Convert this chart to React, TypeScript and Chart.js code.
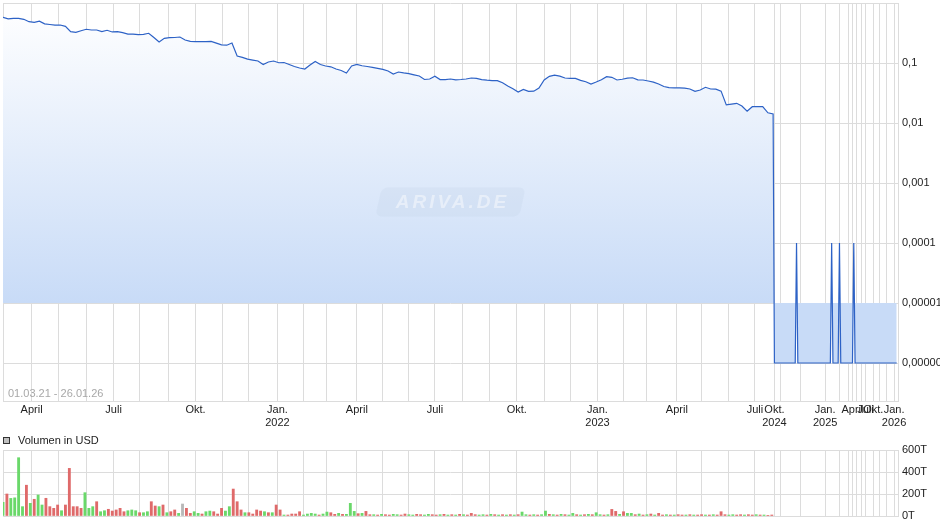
import React, { useEffect, useRef } from 'react';
import { Chart, registerables } from 'chart.js';

Chart.register(...registerables);

// ---------- DATA ----------
// month keys present on the (record-indexed) x axis and number of trading records in each
const monthKeys = [
  '2021-03', '2021-04', '2021-05', '2021-06', '2021-07', '2021-08', '2021-09', '2021-10', '2021-11', '2021-12',
  '2022-01', '2022-02', '2022-03', '2022-04', '2022-05', '2022-06', '2022-07', '2022-08', '2022-09', '2022-10', '2022-11', '2022-12',
  '2023-01', '2023-02', '2023-03', '2023-04', '2023-05', '2023-06', '2023-07',
  '2024-10', '2024-11', '2024-12',
  '2025-01', '2025-02', '2025-03', '2025-04', '2025-05', '2025-06', '2025-07', '2025-10', '2025-11', '2025-12',
  '2026-01',
];
const recordsPerMonth = [
  22, 21, 21, 21, 20, 22, 21, 21, 20, 22,
  20, 18, 23, 20, 20, 20, 21, 21, 21, 21, 20, 21,
  20, 18, 23, 19, 21, 20, 15,
  5, 15, 19,
  11, 7, 3, 3, 4, 3, 6, 5, 5, 6,
  3,
];

// price (USD), every 4th trading record from 01.03.21 until July 2023
const PRICE_STEP = 4;
const priceHistory = [
  0.577, 0.545, 0.556, 0.556, 0.535, 0.488, 0.477, 0.497, 0.450, 0.438,
  0.427, 0.430, 0.409, 0.333, 0.325, 0.345, 0.365, 0.355, 0.355, 0.334,
  0.351, 0.329, 0.333, 0.321, 0.304, 0.304, 0.297, 0.301, 0.313, 0.266,
  0.224, 0.258, 0.264, 0.266, 0.271, 0.242, 0.230, 0.227, 0.227, 0.227,
  0.229, 0.214, 0.200, 0.198, 0.215, 0.131, 0.124, 0.116, 0.112, 0.108,
  0.0945, 0.104, 0.108, 0.101, 0.102, 0.0945, 0.0875, 0.0825, 0.0794, 0.0926,
  0.106, 0.0945, 0.0891, 0.0865, 0.0794, 0.0750, 0.0681, 0.0891, 0.0945, 0.0900,
  0.0875, 0.0845, 0.0812, 0.0781, 0.0736, 0.0656, 0.0708, 0.0685, 0.0667, 0.0636,
  0.0607, 0.0531, 0.0541, 0.0600, 0.0530, 0.0528, 0.0541, 0.0525, 0.0531, 0.0541,
  0.0562, 0.0553, 0.0530, 0.0517, 0.0509, 0.0509, 0.0468, 0.0414, 0.0372, 0.0329,
  0.0362, 0.0337, 0.0339, 0.0383, 0.0521, 0.0600, 0.0627, 0.0603, 0.0562, 0.0553,
  0.0553, 0.0514, 0.0487, 0.0447, 0.0482, 0.0525, 0.0591, 0.0577, 0.0521, 0.0536,
  0.0558, 0.0568, 0.0525, 0.0521, 0.0501, 0.0479, 0.0447, 0.0406, 0.0389, 0.0386,
  0.0386, 0.0380, 0.0369, 0.0337, 0.0355, 0.0394, 0.0369, 0.0367, 0.0340, 0.0200,
  0.0207, 0.0213, 0.0192, 0.0158, 0.0187, 0.0187, 0.0188, 0.0148, 0.0142,
];

// price (USD), every trading record from October 2024 until 26.01.26
const priceLater = [
  1e-6, 1e-6, 1e-6, 1e-6, 1e-6, 1e-6, 1e-6, 1e-6, 1e-6, 1e-6,
  1e-6, 1e-6, 1e-6, 1e-6, 1e-6, 1e-6, 1e-6, 1e-4, 1e-6, 1e-6,
  1e-6, 1e-6, 1e-6, 1e-6, 1e-6, 1e-6, 1e-6, 1e-6, 1e-6, 1e-6,
  1e-6, 1e-6, 1e-6, 1e-6, 1e-6, 1e-6, 1e-6, 1e-6, 1e-6, 1e-6,
  1e-6, 1e-6, 1e-6, 1e-6, 1e-4, 1e-6, 1e-6, 1e-6, 1e-6, 1e-6,
  1e-4, 1e-6, 1e-6, 1e-6, 1e-6, 1e-6, 1e-6, 1e-6, 1e-6, 1e-6,
  1e-6, 1e-4, 1e-6, 1e-6, 1e-6, 1e-6, 1e-6, 1e-6, 1e-6, 1e-6,
  1e-6, 1e-6, 1e-6, 1e-6, 1e-6, 1e-6, 1e-6, 1e-6, 1e-6, 1e-6,
  1e-6, 1e-6, 1e-6, 1e-6, 1e-6, 1e-6, 1e-6, 1e-6, 1e-6, 1e-6,
  1e-6, 1e-6, 1e-6, 1e-6, 1e-6,
];

// volume in thousand USD, every 3rd trading record (2021-03 .. 2023-07)
const VOLUME_STEP = 3;
const volumeT = [
  125, 200, 160, 165, 530, 85, 280, 115, 152, 191,
  100, 161, 85, 70, 100, 48, 100, 433, 85, 85,
  70, 212, 70, 85, 130, 39, 48, 61, 45, 55,
  70, 39, 48, 55, 48, 30, 30, 39, 130, 91,
  85, 100, 30, 39, 55, 24, 109, 70, 24, 39,
  24, 18, 39, 45, 39, 18, 70, 45, 85, 245,
  130, 55, 30, 30, 18, 55, 45, 39, 30, 30,
  100, 55, 9, 9, 18, 18, 39, 9, 18, 24,
  18, 9, 18, 36, 30, 15, 24, 15, 15, 115,
  42, 21, 24, 42, 12, 12, 9, 15, 12, 9,
  15, 12, 9, 18, 12, 9, 15, 12, 9, 15,
  12, 9, 12, 15, 9, 12, 9, 15, 12, 9,
  24, 12, 9, 12, 9, 15, 12, 9, 12, 9,
  12, 9, 12, 36, 12, 9, 12, 9, 12, 45,
  15, 12, 9, 15, 12, 9, 24, 12, 9, 12,
  15, 12, 30, 12, 9, 12, 60, 42, 15, 39,
  24, 24, 12, 18, 9, 12, 18, 9, 24, 9,
  12, 9, 9, 12, 9, 9, 12, 9, 9, 12,
  9, 9, 12, 9, 39, 12, 9, 12, 9, 12,
  9, 12, 9, 12, 9, 9, 6, 9,
];
// u = up day (green), d = down day (red), n = unchanged (grey)
const volumeTrend =
  'uduuuududu' + 'uddddudddd' + 'duuuduuddd' + 'dduuuduudd' + 'ududdunddu' +
  'uduuddduud' + 'dduddddudu' + 'ddudddduuu' + 'uduudduduu' + 'ududdududd' +
  'uudduudduu' + 'ddudududud' + 'dduudududu' + 'duduududuu' + 'dududuudud' +
  'uduududdud' + 'uududududd' + 'ududdududd' + 'ududdduudd' + 'uddududd';

const priceTicks = [0.000001, 0.00001, 0.0001, 0.001, 0.01, 0.1];
const volumeTicks = [0, 200, 400, 600];
const rangeLabel = '01.03.21 - 26.01.26';
const volumeLegend = 'Volumen in USD';
const quarterNames: Record<number, string> = { 1: 'Jan.', 4: 'April', 7: 'Juli', 10: 'Okt.' };

// ---------- derived ----------
const monthStarts: number[] = [];
let acc = 0;
for (const n of recordsPerMonth) {
  monthStarts.push(acc);
  acc += n;
}
const totalRecords = acc;
const laterStart = monthStarts[monthKeys.indexOf('2024-10')];

const monthLabels = (() => {
  let prevYear: number | null = null;
  return monthKeys.map((k) => {
    const [y, m] = k.split('-').map(Number);
    const name = quarterNames[m];
    if (!name) return '';
    const showYear = m === 1 || (prevYear !== null && prevYear !== y);
    prevYear = y;
    return showYear ? [name, String(y)] : name;
  });
})();

const pricePoints = [
  ...priceHistory.map((v, i) => ({ x: i * PRICE_STEP, y: v })),
  ...priceLater.map((v, j) => ({ x: laterStart + j, y: v })),
];
const volumePoints = volumeT.map((v, k) => ({ x: k * VOLUME_STEP, y: v }));
const volumeColors = volumeTrend
  .split('')
  .map((c) => (c === 'u' ? '#6ad86a' : c === 'd' ? '#df6a6a' : '#b8b8b8'));

const FONT = 'Liberation Sans, Arial, sans-serif';
const GRID = '#dcdcdc';

const fmtDe = (v: number) => {
  const d = Math.max(0, Math.round(-Math.log10(v)));
  return v.toFixed(d).replace('.', ',');
};

const topBorderPlugin = {
  id: 'topBorder',
  beforeDatasetsDraw(chart: any) {
    const { ctx, chartArea: a } = chart;
    ctx.save();
    ctx.strokeStyle = GRID;
    ctx.lineWidth = 1;
    ctx.beginPath();
    ctx.moveTo(a.left, Math.round(a.top) + 0.5);
    ctx.lineTo(a.right, Math.round(a.top) + 0.5);
    ctx.stroke();
    ctx.restore();
  },
};

const overlayPlugin = {
  id: 'overlay',
  afterDatasetsDraw(chart: any) {
    const { ctx, chartArea: a } = chart;
    const cx = (a.left + a.right) / 2;
    const cy = (a.top + a.bottom) / 2;
    ctx.save();
    ctx.translate(cx, cy);
    ctx.transform(1, 0, -0.22, 1, 0, 0);
    ctx.beginPath();
    (ctx as any).roundRect(-72, -14.5, 144, 29, 6);
    ctx.fillStyle = 'rgba(140,160,190,0.08)';
    ctx.fill();
    ctx.restore();
    ctx.save();
    ctx.font = `italic bold 19px ${FONT}`;
    (ctx as any).letterSpacing = '3px';
    ctx.fillStyle = 'rgba(255,255,255,0.45)';
    ctx.textAlign = 'center';
    ctx.textBaseline = 'middle';
    ctx.fillText('ARIVA.DE', cx + 2, cy + 1);
    ctx.restore();
    ctx.save();
    ctx.font = `11px ${FONT}`;
    ctx.fillStyle = '#a8a8a8';
    ctx.textAlign = 'left';
    ctx.textBaseline = 'middle';
    ctx.fillText(rangeLabel, a.left + 5, a.bottom - 7);
    ctx.restore();
  },
};

const legendPlugin = {
  id: 'volLegend',
  afterDraw(chart: any) {
    const { ctx } = chart;
    ctx.save();
    ctx.fillStyle = '#c0c0c0';
    ctx.fillRect(3.5, 5.5, 6, 6);
    ctx.strokeStyle = '#333';
    ctx.lineWidth = 1;
    ctx.strokeRect(3.5, 5.5, 6, 6);
    ctx.font = `11px ${FONT}`;
    ctx.fillStyle = '#222';
    ctx.textAlign = 'left';
    ctx.textBaseline = 'middle';
    ctx.fillText(volumeLegend, 18, 8.5);
    ctx.restore();
  },
};

const monthAxis = (showLabels: boolean, height: number) => ({
  type: 'linear' as const,
  min: 0,
  max: totalRecords,
  offset: false,
  afterBuildTicks: (s: any) => {
    s.ticks = monthStarts.map((v) => ({ value: v }));
  },
  afterFit: (s: any) => {
    s.height = height;
    s.paddingLeft = 0;
    s.paddingRight = 0;
  },
  grid: { color: GRID, drawTicks: false, offset: false, lineWidth: 1 },
  border: { color: GRID },
  ticks: {
    display: showLabels,
    autoSkip: false,
    maxRotation: 0,
    minRotation: 0,
    padding: 2,
    color: '#222',
    font: { family: FONT, size: 11 },
    callback: (_v: any, i: number) => monthLabels[i],
  },
});

export default function App() {
  const priceRef = useRef<HTMLCanvasElement>(null);
  const volRef = useRef<HTMLCanvasElement>(null);

  useEffect(() => {
    document.body.style.margin = '0';
    const priceChart = new Chart(priceRef.current as HTMLCanvasElement, {
      type: 'line',
      data: {
        datasets: [
          {
            data: pricePoints,
            borderColor: '#2d62c6',
            borderWidth: 1.2,
            pointRadius: 0,
            tension: 0,
            fill: { target: { value: 0.00001 } },
            backgroundColor: (c: any) => {
              const chart = c.chart;
              const area = chart.chartArea;
              if (!area) return 'rgba(200,219,247,0.6)';
              const yb = chart.scales.y.getPixelForValue(0.00001);
              const g = chart.ctx.createLinearGradient(0, area.top, 0, yb);
              g.addColorStop(0, '#ffffff');
              g.addColorStop(1, '#c8dbf7');
              return g;
            },
          } as any,
        ],
      },
      options: {
        responsive: false,
        animation: false,
        devicePixelRatio: 1,
        layout: { padding: { left: 3, top: 3, right: 0, bottom: 0 } },
        plugins: { legend: { display: false }, tooltip: { enabled: false } },
        scales: {
          x: monthAxis(true, 31) as any,
          y: {
            type: 'logarithmic',
            position: 'right',
            min: Math.pow(10, -6.633),
            max: 1,
            afterBuildTicks: (s: any) => {
              s.ticks = priceTicks.map((v) => ({ value: v }));
            },
            afterFit: (s: any) => {
              s.width = 42;
              s.paddingTop = 0;
              s.paddingBottom = 0;
            },
            grid: { color: GRID, drawTicks: false },
            border: { color: GRID },
            ticks: {
              padding: 4,
              color: '#222',
              font: { family: FONT, size: 11 },
              callback: (v: any) => fmtDe(Number(v)),
            },
          } as any,
        },
      },
      plugins: [topBorderPlugin, overlayPlugin],
    });

    const volChart = new Chart(volRef.current as HTMLCanvasElement, {
      type: 'bar',
      data: {
        datasets: [
          {
            data: volumePoints as any,
            backgroundColor: volumeColors,
            borderWidth: 0,
            barThickness: 2.2,
          } as any,
        ],
      },
      options: {
        responsive: false,
        animation: false,
        devicePixelRatio: 1,
        layout: { padding: { left: 3, top: 18, right: 0, bottom: 0 } },
        plugins: { legend: { display: false }, tooltip: { enabled: false } },
        scales: {
          x: monthAxis(false, 10) as any,
          y: {
            position: 'right',
            min: 0,
            max: 600,
            afterBuildTicks: (s: any) => {
              s.ticks = volumeTicks.map((v) => ({ value: v }));
            },
            afterFit: (s: any) => {
              s.width = 42;
              s.paddingTop = 0;
              s.paddingBottom = 0;
            },
            grid: { color: GRID, drawTicks: false },
            border: { color: GRID },
            ticks: {
              padding: 4,
              color: '#222',
              font: { family: FONT, size: 11 },
              callback: (v: any) => `${v}T`,
            },
          } as any,
        },
      },
      plugins: [legendPlugin],
    });

    return () => {
      priceChart.destroy();
      volChart.destroy();
    };
  }, []);

  return (
    <div style={{ position: 'absolute', left: 0, top: 0, width: 940, height: 526, background: '#fff' }}>
      <canvas ref={priceRef} width={940} height={432} style={{ position: 'absolute', left: 0, top: 0 }} />
      <canvas ref={volRef} width={940} height={94} style={{ position: 'absolute', left: 0, top: 432 }} />
    </div>
  );
}
